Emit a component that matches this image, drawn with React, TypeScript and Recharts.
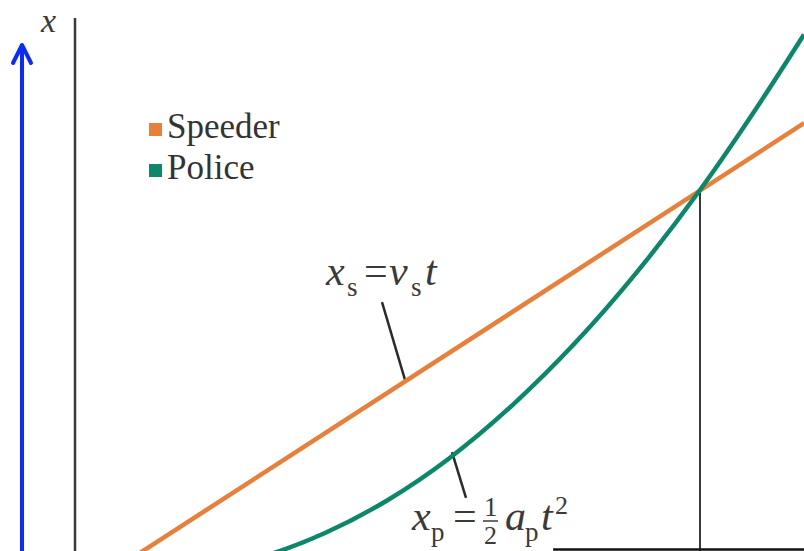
import React from "react";
import { LineChart, Line, XAxis, YAxis, ReferenceLine, Legend } from "recharts";

// time (arbitrary units) and position (arbitrary units)
const speederT = [0, 11.664];
const speederX = [0, 116.5];
const policeT = [1, 2, 3, 4, 5, 6, 7, 8, 9, 10, 11, 11.664];
const policeX = [5.2, 6.2, 9.5, 15.3, 23.4, 33.9, 46.9, 62.2, 79.9, 100.0, 122.5, 138.4];
const seriesNames = ["Speeder", "Police"];
const seriesColors = ["#E8803A", "#0B876A"];
const meetT = 10;
const meetX = 100;

const speederData = speederT.map((t, i) => ({ t, x: speederX[i] }));
const policeData = policeT.map((t, i) => ({ t, x: policeX[i] }));

const X_DOMAIN: [number, number] = [0, 11.664];
const Y_DOMAIN: [number, number] = [10.86, 142.47];

const FONT = "'Liberation Serif', 'DejaVu Serif', serif";
const INK = "#333333";

const LegendContent = () => (
  <div style={{ fontFamily: FONT, fontSize: 35, color: INK, lineHeight: "41px" }}>
    {seriesNames.map((n, i) => (
      <div key={n} style={{ display: "flex", alignItems: "center" }}>
        <span
          style={{
            display: "inline-block",
            width: 13,
            height: 13,
            background: seriesColors[i],
            marginRight: 5,
            marginTop: 6,
          }}
        />
        <span>{n}</span>
      </div>
    ))}
  </div>
);

export default function App() {
  return (
    <div style={{ position: "absolute", left: 0, top: 0, width: 804, height: 551, background: "#fff", overflow: "hidden" }}>
      <LineChart width={804} height={551} margin={{ top: 18, right: 0, bottom: 0, left: 0 }}>
        <XAxis type="number" dataKey="t" domain={X_DOMAIN} allowDataOverflow hide />
        <YAxis
          type="number"
          width={75}
          domain={Y_DOMAIN}
          allowDataOverflow
          tick={false}
          tickLine={false}
          axisLine={{ stroke: "#3a3a3a", strokeWidth: 2.5 }}
        />
        <Legend
          layout="vertical"
          align="center"
          verticalAlign="middle"
          content={<LegendContent />}
          wrapperStyle={{ position: "absolute", left: 149, top: 106, width: "auto" }}
        />
        <ReferenceLine
          segment={[{ x: meetT, y: meetX }, { x: meetT, y: Y_DOMAIN[0] }]}
          stroke="#3a3a3a"
          strokeWidth={2}
          ifOverflow="hidden"
        />
        <ReferenceLine
          segment={[{ x: 7.65, y: 11.25 }, { x: X_DOMAIN[1], y: 11.25 }]}
          stroke="#111"
          strokeWidth={2.5}
        />
        <ReferenceLine
          segment={[{ x: 4.912, y: 72.3 }, { x: 5.28, y: 53.1 }]}
          stroke="#2a2a2a"
          strokeWidth={2.5}
        />
        <ReferenceLine
          segment={[{ x: 6.032, y: 35.3 }, { x: 6.256, y: 23.95 }]}
          stroke="#2a2a2a"
          strokeWidth={2.5}
        />
        <Line
          data={speederData}
          dataKey="x"
          name={seriesNames[0]}
          type="linear"
          stroke={seriesColors[0]}
          strokeWidth={4.5}
          dot={false}
          isAnimationActive={false}
        />
        <Line
          data={policeData}
          dataKey="x"
          name={seriesNames[1]}
          type="monotone"
          stroke={seriesColors[1]}
          strokeWidth={4.5}
          dot={false}
          isAnimationActive={false}
        />
      </LineChart>
      <svg
        width={804}
        height={551}
        style={{ position: "absolute", left: 0, top: 0, pointerEvents: "none" }}
        fontFamily={FONT}
        fill="#3a3a3a"
      >
        {/* blue direction arrow */}
        <line x1={22} y1={551} x2={22} y2={46} stroke="#0A2BFF" strokeWidth={4} />
        <polyline points="13,63 22,45 31,63" fill="none" stroke="#0A2BFF" strokeWidth={4} strokeLinecap="round" strokeLinejoin="round" />
        {/* axis label */}
        <text x={41} y={32} fontSize={34} fontStyle="italic">x</text>
        {/* speeder equation */}
        <text x={326} y={285} fontSize={42} fontStyle="italic">x</text>
        <text x={347} y={296} fontSize={27}>s</text>
        <text x={364} y={285} fontSize={42}>=</text>
        <text x={389} y={285} fontSize={42} fontStyle="italic">v</text>
        <text x={411} y={296} fontSize={27}>s</text>
        <text x={425} y={285} fontSize={42} fontStyle="italic">t</text>
        {/* police equation */}
        <text x={412} y={530} fontSize={42} fontStyle="italic">x</text>
        <text x={431} y={541} fontSize={27}>p</text>
        <text x={453} y={530} fontSize={42}>=</text>
        <text x={484} y={516} fontSize={27}>1</text>
        <line x1={483} y1={521} x2={498} y2={521} stroke="#3a3a3a" strokeWidth={1.5} />
        <text x={484} y={544} fontSize={26}>2</text>
        <text x={505} y={530} fontSize={42} fontStyle="italic">a</text>
        <text x={525} y={541} fontSize={27}>p</text>
        <text x={541} y={530} fontSize={42} fontStyle="italic">t</text>
        <text x={555} y={514} fontSize={26}>2</text>
      </svg>
    </div>
  );
}
